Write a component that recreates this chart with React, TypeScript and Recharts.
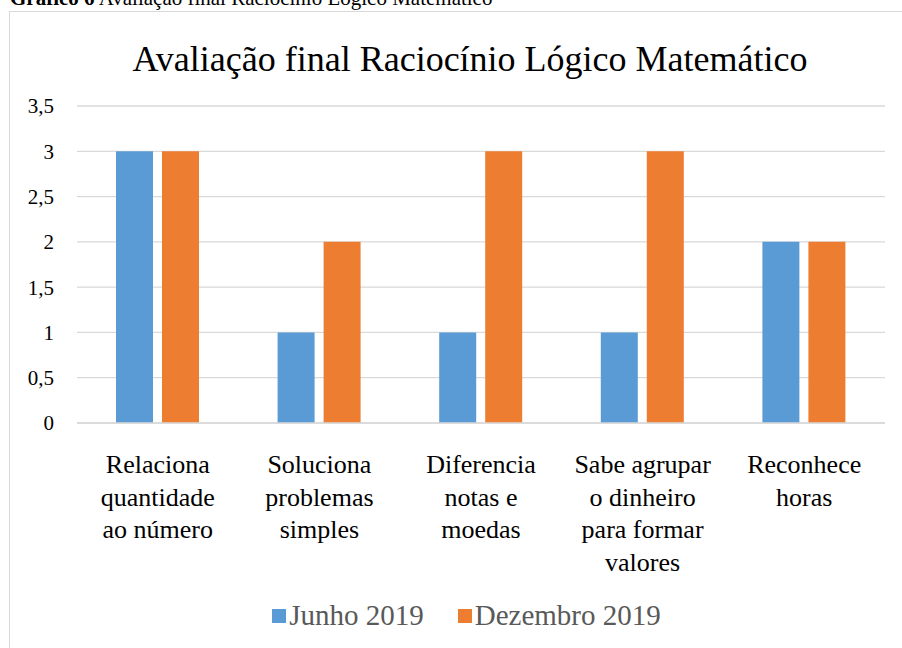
import { BarChart, Bar, XAxis, YAxis, CartesianGrid, Legend } from "recharts";

const categories = [
  ["Relaciona", "quantidade", "ao número"],
  ["Soluciona", "problemas", "simples"],
  ["Diferencia", "notas e", "moedas"],
  ["Sabe agrupar", "o dinheiro", "para formar", "valores"],
  ["Reconhece", "horas"],
];
const junho = [3, 1, 1, 1, 2];
const dezembro = [3, 2, 3, 3, 2];
const yTicks = [0, 0.5, 1, 1.5, 2, 2.5, 3, 3.5];

const data = categories.map((lines, i) => ({
  name: lines.join(" "),
  junho: junho[i],
  dezembro: dezembro[i],
}));

const FONT = "'Liberation Serif', 'Times New Roman', serif";

function CategoryTick(props: any) {
  const { x, y, payload } = props;
  const lines = categories[payload.index] || [payload.value];
  return (
    <text
      x={x}
      y={y}
      textAnchor="middle"
      fill="#000"
      style={{ fontFamily: FONT, fontSize: 26 }}
    >
      {lines.map((l: string, i: number) => (
        <tspan key={i} x={x} dy={i === 0 ? 42 : 32.7}>
          {l}
        </tspan>
      ))}
    </text>
  );
}

function LegendContent() {
  const items = [
    { label: "Junho 2019", color: "#5B9BD5" },
    { label: "Dezembro 2019", color: "#ED7D31" },
  ];
  return (
    <div
      style={{
        display: "flex",
        justifyContent: "center",
        gap: 34,
        fontFamily: FONT,
        fontSize: 29,
        color: "#595959",
        paddingLeft: 48,
      }}
    >
      {items.map((it) => (
        <div key={it.label} style={{ display: "flex", alignItems: "center", gap: 3 }}>
          <div style={{ width: 14, height: 14, background: it.color }} />
          <span>{it.label}</span>
        </div>
      ))}
    </div>
  );
}

export default function App() {
  return (
    <div
      style={{
        position: "fixed",
        left: 0,
        top: 0,
        width: 902,
        height: 648,
        overflow: "hidden",
        background: "#fff",
        fontFamily: FONT,
      }}
    >
      <div
        style={{
          position: "absolute",
          left: 10,
          top: -14,
          fontSize: 21,
          whiteSpace: "nowrap",
          color: "#000",
        }}
      >
        <b>Gráfico 6</b> Avaliação final Raciocínio Lógico Matemático
      </div>
      <div
        style={{
          position: "absolute",
          left: 9,
          top: 11,
          width: 920,
          height: 660,
          border: "1px solid #d9d9d9",
          boxSizing: "border-box",
        }}
      />
      <div
        style={{
          position: "absolute",
          left: 0,
          top: 38,
          width: 902,
          textAlign: "center",
          paddingLeft: 38,
          boxSizing: "border-box",
          fontSize: 36,
          color: "#000",
          whiteSpace: "nowrap",
        }}
      >
        Avaliação final Raciocínio Lógico Matemático
      </div>
      <div style={{ position: "absolute", left: 0, top: 0 }}>
        <BarChart
          width={902}
          height={648}
          data={data}
          margin={{ top: 106, right: 17, bottom: 0, left: 0 }}
          barSize={37}
          barGap={9}
        >
          <CartesianGrid vertical={false} stroke="#d9d9d9" strokeWidth={1.3} />
          <XAxis
            dataKey="name"
            tick={<CategoryTick />}
            tickLine={false}
            axisLine={{ stroke: "#d9d9d9", strokeWidth: 1.3 }}
            interval={0}
            height={195}
          />
          <YAxis
            domain={[0, 3.5]}
            ticks={yTicks}
            tickFormatter={(v: number) => String(v).replace(".", ",")}
            tick={{ fontSize: 21, fill: "#000", style: { fontFamily: FONT } }}
            tickLine={false}
            axisLine={false}
            tickSize={0}
            tickMargin={23}
            width={77}
          />
          <Legend
            verticalAlign="bottom"
            height={30}
            content={<LegendContent />}
            wrapperStyle={{ bottom: 19 }}
          />
          <Bar dataKey="junho" name="Junho 2019" fill="#5B9BD5" isAnimationActive={false} />
          <Bar dataKey="dezembro" name="Dezembro 2019" fill="#ED7D31" isAnimationActive={false} />
        </BarChart>
      </div>
    </div>
  );
}
